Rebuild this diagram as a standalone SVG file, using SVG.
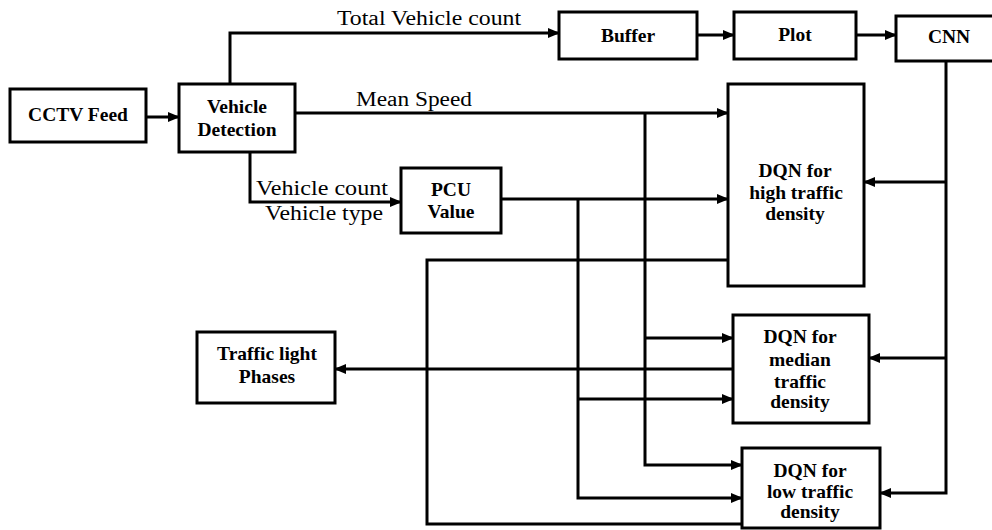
<svg xmlns="http://www.w3.org/2000/svg" width="992" height="530" viewBox="0 0 992 530">
<defs>
<style>
.box{fill:#fff;stroke:#000;stroke-width:3}
.lbl{font-family:"Liberation Serif","Times New Roman",serif;font-size:19.5px;font-weight:700;fill:#000;text-anchor:middle}
.edge{font-family:"Liberation Serif","Times New Roman",serif;font-size:20px;font-weight:400;fill:#000}
.ln{fill:none;stroke:#000;stroke-width:3}
.ar{marker-end:url(#ah)}
</style>
<marker id="ah" markerUnits="userSpaceOnUse" markerWidth="12" markerHeight="10" refX="11" refY="5" orient="auto">
<path d="M0,0 L12,5 L0,10 z" fill="#000"/>
</marker>
</defs>
<rect width="992" height="530" fill="#fff"/>
<g id="connectors">
<path class="ln ar" d="M146,117 H179"/>
<path class="ln ar" d="M230,84 V33 H559"/>
<path class="ln ar" d="M697,35 H734"/>
<path class="ln ar" d="M856,35 H896"/>
<path class="ln ar" d="M295,113 H728"/>
<path class="ln ar" d="M645,113 V465 H742"/>
<path class="ln ar" d="M645,338 H733"/>
<path class="ln ar" d="M250,152 V202 H401"/>
<path class="ln ar" d="M501,199 H728"/>
<path class="ln ar" d="M578,199 V498 H742"/>
<path class="ln ar" d="M578,399 H733"/>
<path class="ln ar" d="M946,61 V493 H880"/>
<path class="ln ar" d="M946,182 H864"/>
<path class="ln ar" d="M946,358 H869"/>
<path class="ln" d="M728,260 H427 V524 H742"/>
<path class="ln ar" d="M733,369 H335"/>
<text class="edge" x="337" y="25" textLength="184" lengthAdjust="spacingAndGlyphs">Total Vehicle count</text>
<text class="edge" x="356" y="106" textLength="116" lengthAdjust="spacingAndGlyphs">Mean Speed</text>
<text class="edge" x="256" y="195" textLength="132" lengthAdjust="spacingAndGlyphs">Vehicle count</text>
<text class="edge" x="265" y="220" textLength="118" lengthAdjust="spacingAndGlyphs">Vehicle type</text>
</g>
<g id="cctv">
<rect class="box" x="10" y="89" width="136" height="53"/>
<text class="lbl" x="78" y="121">CCTV Feed</text>
</g>
<g id="detection">
<rect class="box" x="179" y="84" width="116" height="68"/>
<text class="lbl" x="237" y="113">Vehicle</text>
<text class="lbl" x="237" y="136">Detection</text>
</g>
<g id="buffer">
<rect class="box" x="559" y="12" width="138" height="47"/>
<text class="lbl" x="628" y="42">Buffer</text>
</g>
<g id="plot">
<rect class="box" x="734" y="12" width="122" height="47"/>
<text class="lbl" x="795" y="41">Plot</text>
</g>
<g id="cnn">
<rect class="box" x="896" y="16" width="110" height="45"/>
<text class="lbl" x="949" y="43">CNN</text>
</g>
<g id="pcu">
<rect class="box" x="401" y="168" width="100" height="65"/>
<text class="lbl" x="451" y="196">PCU</text>
<text class="lbl" x="451" y="218">Value</text>
</g>
<g id="dqn-high">
<rect class="box" x="728" y="84" width="136" height="202"/>
<text class="lbl" x="795" y="177">DQN for</text>
<text class="lbl" x="796" y="199">high traffic</text>
<text class="lbl" x="795" y="220">density</text>
</g>
<g id="dqn-median">
<rect class="box" x="733" y="315" width="136" height="108"/>
<text class="lbl" x="800" y="343">DQN for</text>
<text class="lbl" x="800" y="366">median</text>
<text class="lbl" x="800" y="388">traffic</text>
<text class="lbl" x="800" y="408">density</text>
</g>
<g id="dqn-low">
<rect class="box" x="742" y="448" width="138" height="80"/>
<text class="lbl" x="810" y="477">DQN for</text>
<text class="lbl" x="810" y="498">low traffic</text>
<text class="lbl" x="810" y="518">density</text>
</g>
<g id="traffic-light">
<rect class="box" x="197" y="332" width="138" height="71"/>
<text class="lbl" x="267" y="360">Traffic light</text>
<text class="lbl" x="267" y="383">Phases</text>
</g>
</svg>
